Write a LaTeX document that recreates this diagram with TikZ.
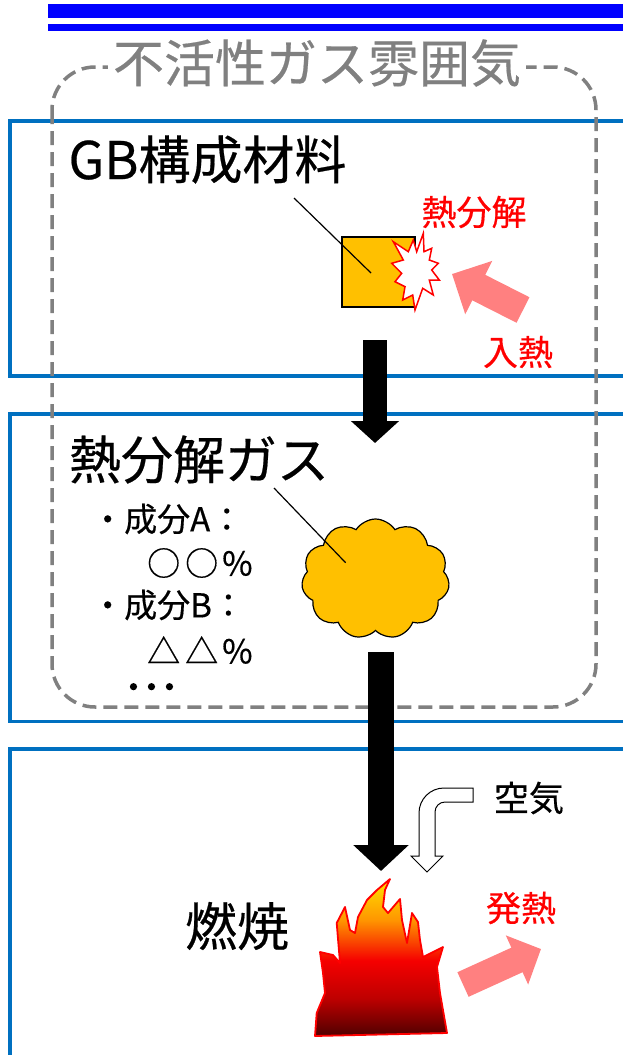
\documentclass[tikz,border=0pt]{standalone}
\usepackage{fontspec}
\usetikzlibrary{arrows.meta,shapes.symbols}
\newfontfamily\jpfont[FakeBold=0.4]{Noto Sans CJK JP}
\newfontfamily\jpdots[FakeBold=3]{Noto Sans CJK JP}
\definecolor{boxblue}{RGB}{0,112,192}
\definecolor{barblue}{RGB}{0,0,255}
\definecolor{mistgray}{RGB}{128,128,128}
\definecolor{matorange}{RGB}{255,192,0}
\definecolor{heatpink}{RGB}{255,128,128}
\definecolor{flametop}{RGB}{255,226,0}
\definecolor{flameorange}{RGB}{255,150,0}
\definecolor{flamered}{RGB}{245,0,0}
\definecolor{flamedeep}{RGB}{190,0,0}
\definecolor{flamedark}{RGB}{80,0,0}
% flame colouring, bottom (dark red) to top (yellow)
\pgfdeclareverticalshading{flameshade}{100bp}{color(0bp)=(flamedark); color(25bp)=(flamedark); color(37bp)=(flamedeep); color(49bp)=(flamered); color(62bp)=(flameorange); color(75bp)=(flametop); color(100bp)=(flametop)}
\begin{document}
\begin{tikzpicture}[x=1pt,y=-1pt,
  stagebox/.style={draw=boxblue,line width=3.5pt},
  txt/.style={font=\jpfont, inner sep=0pt},
  bigtxt/.style={txt,font=\jpfont\fontsize{52}{56}\selectfont},
  midtxt/.style={txt,font=\jpfont\fontsize{35}{40}\selectfont},
  smalltxt/.style={txt,font=\jpfont\fontsize{33}{36}\selectfont},
  leader/.style={draw=black,line width=1.2pt},
  flow/.style={draw=black,line cap=butt},
  heat/.style={draw=heatpink,line cap=butt},
]
\useasboundingbox (0,0) rectangle (623,1055);
\clip (0,0) rectangle (623,1055);

% header bars
\fill[barblue] (47.7,4) rectangle (623,17.7);
\fill[barblue] (47.7,24) rectangle (623,30.7);

% three stage frames
\draw[stagebox] (10,121) rectangle (660,376);
\draw[stagebox] (10,414) rectangle (660,721.5);
\draw[stagebox] (10,749) rectangle (660,1100);

% inert atmosphere boundary
\draw[mistgray,line width=3.5pt,dash pattern=on 14pt off 7pt,rounded corners=43pt]
  (52,67) rectangle (596,707);
\node[txt,font=\jpfont\fontsize{51}{56}\selectfont,text=mistgray,fill=white,inner xsep=5pt,inner ysep=2pt]
  (atmos) at (317,63) {不活性ガス雰囲気};

% ---- stage 1: material
\node[bigtxt] (gbmat) at (207.5,159.5) {GB構成材料};
\node[draw=black,line width=1.2pt,fill=matorange,minimum width=73pt,minimum height=70pt,inner sep=0pt]
  (block) at (378.5,272) {};
\coordinate (gbfoot) at (294,198);
\coordinate (blockin) at (371,273);
\draw[leader] (gbfoot) -- (blockin);
% decomposition burst
\draw[red,line width=1.5pt,fill=white,line join=miter]
  (423.3,233.3) -- (424,251.7) -- (431.7,248.3) -- (429.3,260) -- (438.3,263.3)
  -- (431.7,270) -- (439.3,280) -- (429.3,280) -- (433.3,295) -- (422.7,288.3)
  -- (415,310) -- (412.7,295) -- (402.7,300) -- (405,286.7) -- (395,281.7)
  -- (401.7,273.3) -- (391.7,263.3) -- (403.3,260) -- (393.3,241.7) -- (408.3,251.7)
  -- (413.3,240) -- (416.7,251.7) -- cycle;
\node[midtxt,text=red,fill=white,inner sep=1pt] (decomp) at (474,212) {熱分解};
% incoming heat
\coordinate (hinS) at (523,310);
\coordinate (hinE) at (452,274);
\draw[heat,line width=28.6pt,-{Triangle[length=30pt,width=58pt]}] (hinS) -- (hinE);
\node[midtxt,text=red] (heatin) at (518,352) {入熱};

% stage 1 -> stage 2
\coordinate (f1s) at (375,340);
\coordinate (f1e) at (375,443);
\draw[flow,line width=24pt,-{Triangle[length=22pt,width=47pt]}] (f1s) -- (f1e);

% ---- stage 2: decomposition gas
\node[bigtxt] (gastitle) at (199,459.5) {熱分解ガス};
\node[smalltxt,anchor=west] (compA) at (91,519) {・成分A：};
\node[smalltxt,anchor=west] (shareA) at (147,563) {○\hspace{5pt}○\hspace{4pt}\%};
\node[smalltxt,anchor=west] (compB) at (91,605) {・成分B：};
\node[smalltxt,anchor=west] (shareB) at (147,650) {△\hspace{5pt}△\hspace{4pt}\%};
\node[txt,font=\jpdots\fontsize{36}{40}\selectfont] (more) at (151.5,692) {･･･};
\node[cloud,cloud puffs=11,cloud puff arc=115,aspect=1.2,draw=black,line width=1.2pt,
  fill=matorange,minimum width=148pt,minimum height=120pt,inner sep=0pt] (gas) at (375.5,579) {};
\coordinate (gasfoot) at (274,488);
\coordinate (gasin) at (345.6,562.7);
\draw[leader] (gasfoot) -- (gasin);

% stage 2 -> stage 3
\coordinate (f2s) at (381,652);
\coordinate (f2e) at (381,871);
\draw[flow,line width=26pt,-{Triangle[length=26pt,width=54pt]}] (f2s) -- (f2e);

% ---- stage 3: combustion
\node[midtxt] (air) at (529,798) {空気};
% air supply (hollow bent arrow)
\draw[black,line width=1pt,fill=white,line join=miter]
  (473,788) -- (444,788) arc[start angle=270,end angle=180,radius=25]
  -- (419,856) -- (411,856) -- (427,872) -- (443,856) -- (435,856)
  -- (435,812) arc[start angle=180,end angle=270,radius=10]
  -- (473,802) -- cycle;
\node[bigtxt] (burn) at (237,926) {燃焼};
% flame
\shadedraw[shading=flameshade,draw=red,line width=1.8pt,line join=round]
  (315,1036) -- (316.7,1013) -- (325,993) -- (323,973) -- (320,952)
  -- (333,955) -- (340,963) -- (336.7,923) -- (345,907) -- (350,930)
  -- (355,933) -- (358,917) -- (367,900) -- (377,890) -- (390,879)
  -- (385,890) -- (383,907) -- (388,913) -- (400,899) -- (402,920)
  -- (407,943) -- (412,913) -- (418,922) -- (420,940) -- (423,957)
  -- (443,947) -- (437,967) -- (440,993) -- (447,1033) -- cycle;
% released heat
\coordinate (houtS) at (463,984.5);
\coordinate (houtE) at (541,949);
\draw[heat,line width=27pt,-{Triangle[length=26.4pt,width=52.4pt]}] (houtS) -- (houtE);
\node[midtxt,text=red] (heatout) at (521,908) {発熱};
\end{tikzpicture}
\end{document}
